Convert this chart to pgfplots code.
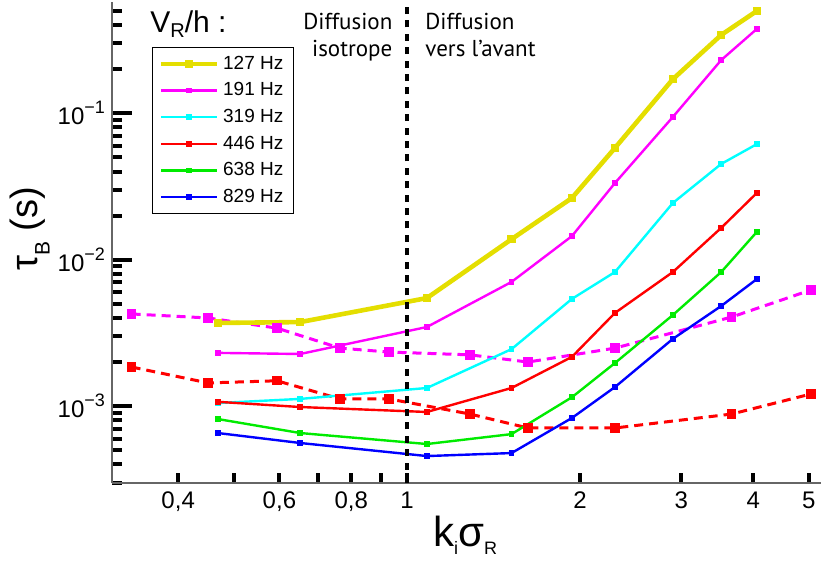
\documentclass[border=0pt]{standalone}
\usepackage{fontspec}
\setmainfont{Liberation Sans}
\newfontfamily\ptsans{PT Sans}
\usepackage{pgfplots}
\pgfplotsset{compat=1.18}
\definecolor{cyellow}{RGB}{228,222,0}
\definecolor{cmag}{RGB}{255,0,255}
\definecolor{ccyan}{RGB}{0,255,255}
\definecolor{cred}{RGB}{255,0,0}
\definecolor{cgreen}{RGB}{0,235,0}
\definecolor{cblue}{RGB}{0,0,255}
\newcommand{\ytl}[1]{10\raisebox{0.85ex}{\fontsize{9}{9}\selectfont −#1}}
\begin{document}
\begin{tikzpicture}
\begin{axis}[
  name=ax, at={(0,0)}, anchor=south west,
  scale only axis, width=354.5pt, height=240.5pt,
  xmode=log, ymode=log,
  xmin=0.3069, xmax=5.248, ymin=2.985e-4, ymax=0.5754,
  axis x line=bottom, axis y line=left,
  axis line style={-, draw=black!60, line width=0.8pt},
  tick align=inside,
  xtick={0.4,0.6,0.8,1,2,3,4,5},
  xticklabels={{0,4},{0,6},{0,8},1,2,3,4,5},
  minor xtick={0.4,0.5,0.6,0.7,0.8,0.9,1,2,3,4,5},
  major x tick style={draw=none},
  ytick={1e-3,1e-2,1e-1},
  yticklabels={\ytl{3},\ytl{2},\ytl{1}},
  minor ytick={3e-4,4e-4,5e-4,6e-4,7e-4,8e-4,9e-4,2e-3,3e-3,4e-3,5e-3,6e-3,7e-3,8e-3,9e-3,2e-2,3e-2,4e-2,5e-2,6e-2,7e-2,8e-2,9e-2,0.2,0.3,0.4,0.5},
  major tick length=10pt, minor tick length=5pt,
  tick style={black, line width=2pt},
  xticklabel style={font=\fontsize{12}{12}\selectfont, yshift=-1pt},
  yticklabel style={font=\fontsize{12}{12}\selectfont},
  xlabel={k\raisebox{-0.35ex}{\fontsize{9}{9}\selectfont i}σ\raisebox{-0.35ex}{\fontsize{9}{9}\selectfont R}},
  xlabel style={at={(rel axis cs:0.498,-0.108)}, anchor=center, font=\fontsize{21}{21}\selectfont},
  ylabel={τ\raisebox{-6pt}{\fontsize{10.5}{10.5}\selectfont B} (s)},
  ylabel style={at={(rel axis cs:-0.1157,0.528)}, anchor=center, font=\fontsize{19}{19}\selectfont},
  clip=false,
  legend style={at={(0.0564,0.906)}, anchor=north west, draw=black, line width=0.6pt,
    font=\fontsize{9.5}{9.5}\selectfont, inner xsep=3pt, inner ysep=2pt, row sep=1.2pt},
  legend cell align=left,
  legend image code/.code={\draw[mark repeat=2,mark phase=2] plot coordinates {(0pt,0pt) (14pt,0pt) (28pt,0pt)};},
]
% dashed reference series
\addplot[cmag, line width=1.5pt, dash pattern=on 4.5pt off 3pt, mark=square*, mark size=1.6pt, mark options={solid}, forget plot] coordinates {
(0.332,4.26e-3) (0.451,4.00e-3) (0.594,3.41e-3) (0.765,2.49e-3) (0.930,2.34e-3) (1.287,2.24e-3) (1.623,2.00e-3) (2.30,2.49e-3) (3.67,4.06e-3) (5.04,6.21e-3)};
\addplot[cred, line width=1.5pt, dash pattern=on 4.5pt off 3pt, mark=square*, mark size=1.6pt, mark options={solid}, forget plot] coordinates {
(0.332,1.85e-3) (0.451,1.44e-3) (0.594,1.49e-3) (0.765,1.12e-3) (0.930,1.12e-3) (1.287,8.83e-4) (1.623,7.09e-4) (2.30,7.09e-4) (3.67,8.83e-4) (5.04,1.21e-3)};
% solid series
\addplot[cyellow, line width=2.3pt, mark=square*, mark size=0.9pt] coordinates {
(0.469,3.70e-3) (0.652,3.75e-3) (1.083,5.47e-3) (1.52,1.38e-2) (1.936,2.64e-2) (2.30,5.80e-2) (2.90,0.171) (3.52,0.343) (4.06,0.500)};
\addlegendentry{127 Hz}
\addplot[cmag, line width=1.2pt, mark=square*, mark size=0.8pt] coordinates {
(0.469,2.31e-3) (0.652,2.27e-3) (1.083,3.47e-3) (1.52,7.05e-3) (1.936,1.45e-2) (2.30,3.34e-2) (2.90,9.44e-2) (3.52,0.231) (4.06,0.377)};
\addlegendentry{191 Hz}
\addplot[ccyan, line width=1.2pt, mark=square*, mark size=0.8pt] coordinates {
(0.469,1.05e-3) (0.652,1.12e-3) (1.083,1.33e-3) (1.52,2.45e-3) (1.936,5.40e-3) (2.30,8.24e-3) (2.90,2.44e-2) (3.52,4.51e-2) (4.06,6.16e-2)};
\addlegendentry{319 Hz}
\addplot[cred, line width=1.2pt, mark=square*, mark size=0.8pt] coordinates {
(0.469,1.07e-3) (0.652,9.86e-4) (1.083,9.12e-4) (1.52,1.33e-3) (1.936,2.17e-3) (2.30,4.33e-3) (2.90,8.24e-3) (3.52,1.65e-2) (4.06,2.86e-2)};
\addlegendentry{446 Hz}
\addplot[cgreen, line width=1.2pt, mark=square*, mark size=0.8pt] coordinates {
(0.469,8.16e-4) (0.652,6.55e-4) (1.083,5.51e-4) (1.52,6.44e-4) (1.936,1.15e-3) (2.30,1.97e-3) (2.90,4.19e-3) (3.52,8.24e-3) (4.06,1.55e-2)};
\addlegendentry{638 Hz}
\addplot[cblue, line width=1.2pt, mark=square*, mark size=0.8pt] coordinates {
(0.469,6.55e-4) (0.652,5.60e-4) (1.083,4.56e-4) (1.52,4.78e-4) (1.936,8.30e-4) (2.30,1.35e-3) (2.90,2.88e-3) (3.52,4.83e-3) (4.06,7.38e-3)};
\addlegendentry{829 Hz}
\draw[black, line width=2.4pt, dash pattern=on 3.5pt off 3.2pt] (axis cs:1,2.985e-4) -- (axis cs:1,0.5754);
\node[anchor=base west, font=\fontsize{15}{15}\selectfont, inner sep=0pt] at (rel axis cs:0.0536,0.9376) {V\raisebox{-0.35ex}{\fontsize{10}{10}\selectfont R}/h :};
\node[anchor=north east, align=right, font=\ptsans\fontsize{11.5}{13.8}\selectfont, inner sep=0pt] at (rel axis cs:0.396,0.978) {Diffusion\\isotrope};
\node[anchor=north west, align=left, font=\ptsans\fontsize{11.5}{13.8}\selectfont, inner sep=0pt] at (rel axis cs:0.4415,0.978) {Diffusion\\vers l’avant};
\end{axis}
\pgfresetboundingbox
\path[use as bounding box] (-56pt,-40pt) rectangle (354.5pt,241.5pt);
\end{tikzpicture}
\end{document}
